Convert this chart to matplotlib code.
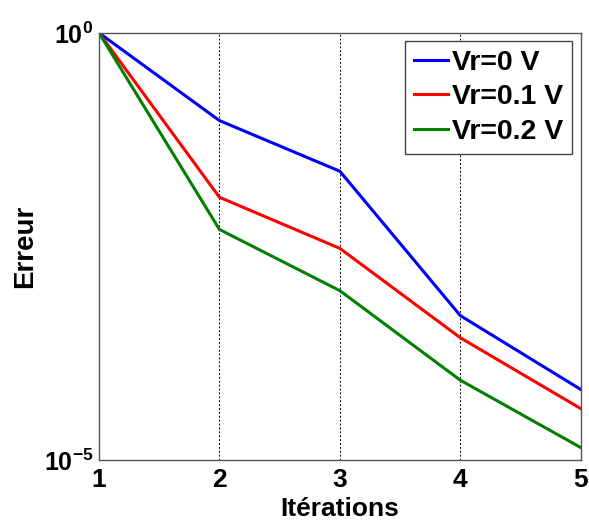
import matplotlib
matplotlib.use("Agg")
import matplotlib.pyplot as plt

plt.rcParams['font.family'] = ['Liberation Sans', 'DejaVu Sans']
plt.rcParams['font.weight'] = 'bold'
plt.rcParams['mathtext.fontset'] = 'custom'
plt.rcParams['mathtext.rm'] = 'Liberation Sans:bold'
plt.rcParams['mathtext.bf'] = 'Liberation Sans:bold'
plt.rcParams['mathtext.it'] = 'Liberation Sans:bold'

iterations = [1, 2, 3, 4, 5]
err_vr0 = [1.0, 0.094, 0.024, 4.9e-4, 6.7e-5]
err_vr01 = [1.0, 0.0119, 3.0e-3, 2.7e-4, 4.0e-5]
err_vr02 = [1.0, 0.0050, 9.6e-4, 8.6e-5, 1.4e-5]
labels = ['Vr=0 V', 'Vr=0.1 V', 'Vr=0.2 V']
colors = ['#0000ff', '#ff0000', '#007f00']
xticks = [1, 2, 3, 4, 5]
yticks = [1e-5, 1e0]
yticklabels = [r'$\mathbf{10^{-5}}$', r'$\mathbf{10^{0}}$']

fig = plt.figure(figsize=(5.89, 5.21), dpi=100)
ax = fig.add_axes([0.168, 0.117, 0.818, 0.820])

for ys, lab, c in zip([err_vr0, err_vr01, err_vr02], labels, colors):
    ax.plot(iterations, ys, color=c, lw=2.2, label=lab, solid_joinstyle='miter')

ax.set_yscale('log')
ax.set_xlim(1, 5)
ax.set_ylim(1e-5, 1e0)
ax.set_xticks(xticks)
ax.set_xticklabels([str(t) for t in xticks])
ax.set_yticks(yticks)
ax.set_yticklabels(yticklabels)
ax.minorticks_off()
ax.tick_params(axis='both', length=0, labelsize=19, pad=6)
ax.tick_params(axis='y', pad=4, labelsize=18)
ax.xaxis.grid(True, linestyle=(0, (2, 2)), color='black', lw=0.7)
for s in ax.spines.values():
    s.set_color('#555555')
    s.set_linewidth(1.0)

ax.set_xlabel('Itérations', fontsize=19, fontweight='bold', labelpad=3)
ax.set_ylabel('Erreur', fontsize=20, fontweight='bold', labelpad=4)

leg = ax.legend(loc='upper right', fontsize=20.5, frameon=True, fancybox=False,
                edgecolor='#444444', framealpha=1, handlelength=1.2,
                handletextpad=0.15, labelspacing=0.3, borderpad=0.3,
                borderaxespad=0.3)
leg.get_frame().set_linewidth(1.0)
for t in leg.get_texts():
    t.set_fontweight('bold')

fig.savefig('out.png', dpi=100)
